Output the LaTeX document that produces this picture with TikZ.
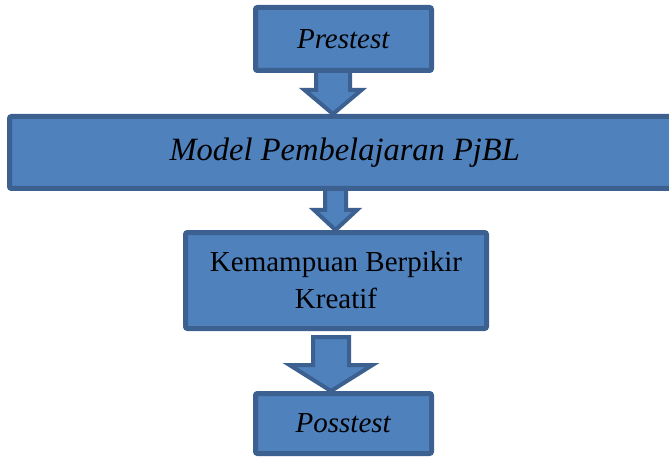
\documentclass[tikz,border=0pt]{standalone}
\usepackage{fontspec}
\setmainfont{Liberation Serif}
\usetikzlibrary{positioning}
\usetikzlibrary{calc}
\definecolor{boxfill}{HTML}{4F81BD}
\definecolor{boxline}{HTML}{3C6090}
% block arrow: #1 start, #2 target, #3 half shaft, #4 half head, #5 head length
\newcommand{\blockarrow}[5]{
\draw[flowarrow] ($(#1)+(-#3,0)$) -- ($(#1 |- #2)+(-#3,-#5)$)
  -- ($(#1 |- #2)+(-#4,-#5)$) -- (#1 |- #2) -- ($(#1 |- #2)+(#4,-#5)$)
  -- ($(#1 |- #2)+(#3,-#5)$) -- ($(#1)+(#3,0)$) -- cycle;
}

\begin{document}
\begin{tikzpicture}[x=1pt, y=-1pt,
  box/.style={draw=boxline, fill=boxfill, line width=5pt, rounded corners=2pt,
    inner sep=0pt, align=center, font=\fontsize{29}{37}\selectfont},
  flowarrow/.style={draw=boxline, fill=boxfill, line width=4pt, line join=miter}]

\clip (0,0) rectangle (669,457);

\node[box, minimum width=176pt, minimum height=63pt] (pre) at (343.5,39) {\textit{Prestest}};
\node[box, minimum width=670.5pt, minimum height=72pt, font=\fontsize{32.5}{38}\selectfont]
  (pjbl) at (344.75,152.5) {\textit{Model Pembelajaran PjBL}};
\node[box, minimum width=301pt, minimum height=96pt] (kem) at (336,280.5)
  {Kemampuan Berpikir\\Kreatif};
\node[box, minimum width=176pt, minimum height=60pt] (post) at (343.5,423.5) {\textit{Posstest}};

\coordinate (a1) at ($(pre.south)+(-10.5,-2)$);
\coordinate (a2) at ($(pjbl.south)+(-9.25,-2)$);
\coordinate (a3) at ($(kem.south)+(-5,6)$);

\blockarrow{a1}{pjbl.north}{17}{28.5}{24}
\blockarrow{a2}{kem.north}{10.5}{21.5}{20}
\blockarrow{a3}{post.north}{18}{41.5}{26}
\end{tikzpicture}
\end{document}
